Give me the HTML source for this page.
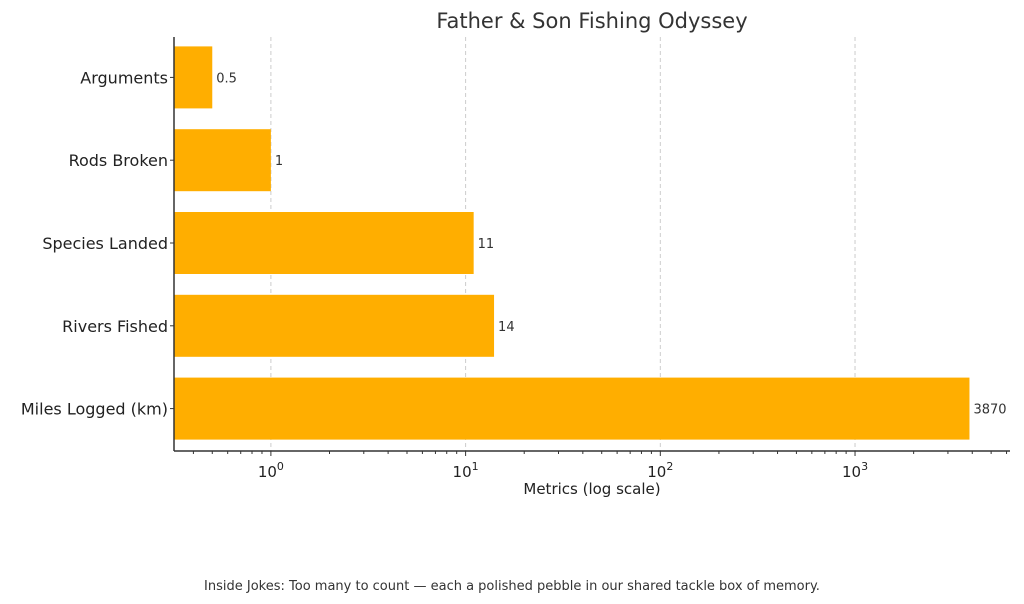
<!DOCTYPE html>
<html><head><meta charset="utf-8"><style>
body{margin:0;background:#fff;}
svg{display:block;font-family:"DejaVu Sans","Liberation Sans",sans-serif;}
</style></head><body>
<svg id="chart" width="1024" height="604">
<text x="592" y="28" text-anchor="middle" font-size="21" fill="#333">Father &amp; Son Fishing Odyssey</text>
<g id="grid"></g><g id="bars"></g><g id="axes"></g>
<text x="592" y="494" text-anchor="middle" font-size="15" fill="#222">Metrics (log scale)</text>
<text x="512" y="590" text-anchor="middle" font-size="13" fill="#333">Inside Jokes: Too many to count — each a polished pebble in our shared tackle box of memory.</text>
</svg>
<script>
const categories=["Arguments","Rods Broken","Species Landed","Rivers Fished","Miles Logged (km)"];
const values=[0.5,1,11,14,3870];
const labels=["0.5","1","11","14","3870"];
const tickExps=[0,1,2,3];
const NS="http://www.w3.org/2000/svg";
const X0=174,X1=1010,Y0=37,Y1=451;
const lmin=Math.log10(0.318),lmax=Math.log10(6250);
function xs(v){return X0+(Math.log10(v)-lmin)/(lmax-lmin)*(X1-X0);}
const band=(Y1-Y0)/categories.length;
function yc(i){return Y0+band*(i+0.5)-1;}
function mk(t,a,p){const e=document.createElementNS(NS,t);for(const k in a)e.setAttribute(k,a[k]);p.appendChild(e);return e;}
const grid=document.getElementById('grid'),bars=document.getElementById('bars'),axes=document.getElementById('axes');
tickExps.forEach(e=>{const x=xs(Math.pow(10,e));
 const g=mk('line',{x1:x,x2:x,y1:Y0,y2:Y1,stroke:'#ccc','stroke-dasharray':'4,3'},grid);
 
 
 mk('line',{x1:x,x2:x,y1:Y1,y2:Y1+5,stroke:'#333'},axes);
 const t=mk('text',{x:x,y:Y1+26,'text-anchor':'middle','font-size':15,fill:'#222'},axes);
 
 
 t.textContent='10';const s=mk('tspan',{dy:-7,'font-size':11},t);s.textContent=e;
});
for(let e=-1;e<=3;e++)for(let m=2;m<=9;m++){const v=m*Math.pow(10,e);const x=xs(v);if(x<X0||x>X1)continue;
 mk('line',{x1:x,x2:x,y1:Y1,y2:Y1+3,stroke:'#333'},axes);}
categories.forEach((c,i)=>{const y=yc(i);
 const r=mk('rect',{x:X0,y:y-31,width:xs(values[i])-X0,height:62,fill:'#FFAE00'},bars);
 
 
 const v=mk('text',{x:xs(values[i])+4,y:y+5,'font-size':13,fill:'#333'},bars);
 
 
 v.textContent=labels[i];
 const t=mk('text',{x:X0-6,y:y+6,'text-anchor':'end','font-size':16,fill:'#222'},axes);
 
 
 t.textContent=c;
 mk('line',{x1:X0-4,x2:X0,y1:y,y2:y,stroke:'#333'},axes);
});
const l1=mk('line',{x1:X0,x2:X0,y1:Y0,y2:Y1,stroke:'#333','stroke-width':1.5},axes);


const l2=mk('line',{x1:X0,x2:X1,y1:Y1,y2:Y1,stroke:'#333','stroke-width':1.5},axes);


</script>
</body></html>
